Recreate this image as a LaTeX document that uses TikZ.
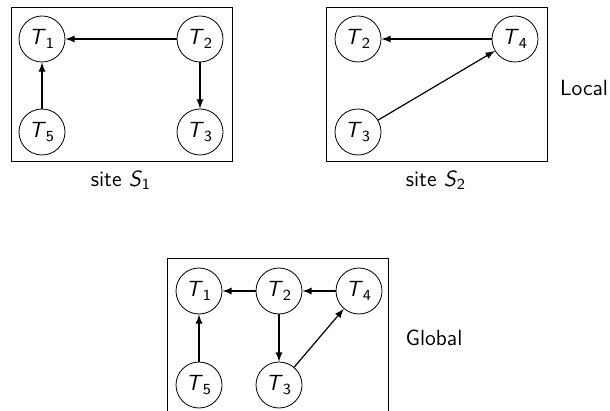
\documentclass[tikz,border=0pt]{standalone}
\newcommand{\tk}[1]{\textit{T}\textsubscript{#1}}
\newcommand{\sitename}[1]{site \textit{S}\textsubscript{#1}}
\begin{document}
\begin{tikzpicture}
    [
    x=0.5pt,y=-0.5pt,
    every node/.style={font=\sffamily\fontsize{11}{13}\selectfont},
    task/.style={circle,draw,inner sep=0pt,minimum size=23pt},
    site/.style={draw},
    dep/.style={-latex,semithick}
    ]
    \useasboundingbox (0,0) rectangle (610,411);
    \clip (0,0) rectangle (610,411);
    % site S1
    \draw [site] (11,7) rectangle (232,161);
    \node (a1) at (42,39) [task] {\tk{1}};
    \node (a2) at (200,39) [task] {\tk{2}};
    \node (a5) at (42,132) [task] {\tk{5}};
    \node (a3) at (200,132) [task] {\tk{3}};
    \node (s1) at (121,180) {\sitename{1}};
    \draw [dep] (a2) to (a1);
    \draw [dep] (a2) to (a3);
    \draw [dep] (a5) to (a1);
    % site S2
    \draw [site] (326,7) rectangle (547,161);
    \node (b2) at (358,39) [task] {\tk{2}};
    \node (b4) at (515,39) [task] {\tk{4}};
    \node (b3) at (358,132) [task] {\tk{3}};
    \node (s2) at (436,180) {\sitename{2}};
    \node (local) at (584,88) {Local};
    \draw [dep] (b4) to (b2);
    \draw [dep] (b3) to (b4);
    % global
    \draw [site] (167,258) rectangle (388,430);
    \node (g1) at (199,291) [task] {\tk{1}};
    \node (g2) at (279,291) [task] {\tk{2}};
    \node (g4) at (359,291) [task] {\tk{4}};
    \node (g5) at (199,385) [task] {\tk{5}};
    \node (g3) at (279,385) [task] {\tk{3}};
    \node (global) at (434,338) {Global};
    \draw [dep] (g2) to (g1);
    \draw [dep] (g4) to (g2);
    \draw [dep] (g2) to (g3);
    \draw [dep] (g3) to (g4);
    \draw [dep] (g5) to (g1);
  \end{tikzpicture}
\end{document}
